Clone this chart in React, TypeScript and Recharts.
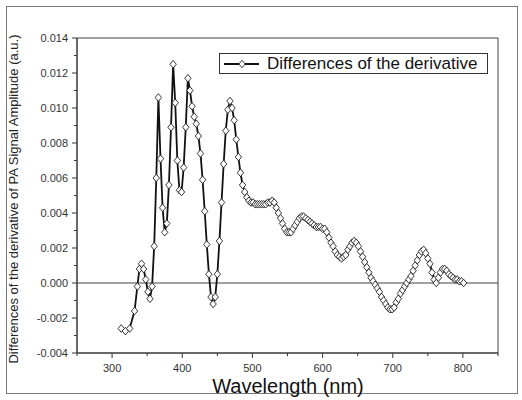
import React from "react"
import {
  LineChart,
  Line,
  XAxis,
  YAxis,
  ReferenceLine,
  ReferenceArea,
  Legend,
} from "recharts"

const wavelengths = [
  313, 319, 325, 332, 336, 339, 342, 345, 348, 351, 354, 357, 360, 363, 366, 369,
  372, 375, 378, 381, 384, 387, 390, 393, 396, 399, 402, 405, 408, 411, 414, 417,
  420, 423, 426, 429, 432, 435, 438, 441, 444, 447, 450, 453, 456, 459, 462, 465,
  468, 471, 474, 477, 480, 483, 486, 489, 492, 495, 498, 501, 504, 507, 510, 513,
  516, 519, 522, 525, 528, 531, 534, 537, 540, 543, 546, 549, 552, 555, 558, 561,
  564, 567, 570, 573, 576, 579, 582, 585, 588, 591, 594, 597, 600, 603, 606, 609,
  612, 615, 618, 621, 624, 627, 630, 633, 636, 639, 642, 645, 648, 651, 654, 657,
  660, 663, 666, 669, 672, 675, 678, 681, 684, 687, 690, 693, 696, 699, 702, 705,
  708, 711, 714, 717, 720, 723, 726, 729, 732, 735, 738, 741, 744, 747, 750, 753,
  756, 759, 762, 765, 768, 771, 774, 777, 780, 783, 786, 789, 792, 795, 798, 801,
]

const differences = [
  -0.0026, -0.00275, -0.0026, -0.0016, -0.0002, 0.0008, 0.0011, 0.0008, 0.0002, -0.0005, -0.0009, -0.0002, 0.0021, 0.006, 0.0106, 0.0071,
  0.0043, 0.0029, 0.0034, 0.0056, 0.0089, 0.0125, 0.0103, 0.007, 0.0053, 0.0052, 0.0066, 0.0089, 0.0117, 0.011, 0.0101, 0.0095,
  0.0091, 0.0084, 0.0074, 0.0059, 0.0041, 0.0022, 0.0005, -0.0008, -0.0012, -0.0008, 0.0005, 0.0024, 0.0046, 0.0068, 0.0087, 0.0099,
  0.0104, 0.01, 0.0093, 0.0082, 0.0072, 0.0063, 0.0056, 0.0052, 0.0049, 0.0047, 0.0046, 0.0046, 0.0045, 0.0045, 0.0045, 0.0045,
  0.0045, 0.0045, 0.0046, 0.0046, 0.0047, 0.0046, 0.0043, 0.004, 0.0037, 0.0034, 0.0031, 0.0029, 0.0029, 0.0029, 0.0031, 0.0033,
  0.0035, 0.0037, 0.0038, 0.0038, 0.0037, 0.0036, 0.0035, 0.0034, 0.0033, 0.0032, 0.0032, 0.0032, 0.0031, 0.0031, 0.0029, 0.0026,
  0.0023, 0.0021, 0.0018, 0.0016, 0.0015, 0.0014, 0.0015, 0.0016, 0.0019, 0.0021, 0.0023, 0.0024, 0.0023, 0.0021, 0.0018, 0.0015,
  0.0012, 0.0009, 0.0006, 0.0003, 0.0001, -0.0001, -0.0003, -0.0005, -0.0008, -0.001, -0.0012, -0.0014, -0.0015, -0.0015, -0.0014, -0.0011,
  -0.0009, -0.0006, -0.0004, -0.0002, 0.0, 0.0002, 0.0004, 0.0007, 0.001, 0.0013, 0.0016, 0.0018, 0.0019, 0.0017, 0.0014, 0.0011,
  0.0006, 0.0002, 0.0, 0.0003, 0.0006, 0.0008, 0.0008, 0.0007, 0.0005, 0.0004, 0.0003, 0.0002, 0.0002, 0.0001, 0.0001, 0.0,
]

const xTicks = [250, 300, 350, 400, 450, 500, 550, 600, 650, 700, 750, 800, 850]
const yTicks = [
  -0.004, -0.003, -0.002, -0.001, 0, 0.001, 0.002, 0.003, 0.004, 0.005, 0.006,
  0.007, 0.008, 0.009, 0.01, 0.011, 0.012, 0.013, 0.014,
]

const seriesName = "Differences of the derivative"

const data = wavelengths.map((w, i) => ({ wavelength: w, value: differences[i] }))

const FONT = "'Liberation Sans', Arial, sans-serif"

function XTick(props: any) {
  const { x, y, payload } = props
  const major = payload.value % 100 === 0
  return (
    <g>
      <line x1={x} x2={x} y1={y} y2={y + (major ? 5 : 3)} stroke="#333" />
      {major && payload.value !== 250 && payload.value !== 850 && (
        <text x={x} y={y + 19} textAnchor="middle" fontSize={11} fill="#333" fontFamily={FONT}>
          {payload.value}
        </text>
      )}
    </g>
  )
}

function YTick(props: any) {
  const { x, y, payload } = props
  const major = Math.round(payload.value * 1000) % 2 === 0
  return (
    <g>
      <line x1={x} x2={x - (major ? 5 : 3)} y1={y} y2={y} stroke="#333" />
      {major && (
        <text x={x - 9} y={y + 4} textAnchor="end" fontSize={11} fill="#333" fontFamily={FONT}>
          {payload.value.toFixed(3)}
        </text>
      )}
    </g>
  )
}

function Diamond(props: any) {
  const { cx, cy, index } = props
  if (cx == null || cy == null) return <g key={`d-${index}`} />
  return (
    <path
      key={`d-${index}`}
      d={`M${cx},${cy - 3.8} L${cx + 3.2},${cy} L${cx},${cy + 3.8} L${cx - 3.2},${cy} Z`}
      fill="#fff"
      stroke="#222"
      strokeWidth={0.9}
    />
  )
}

function LegendBox() {
  return (
    <div
      style={{
        position: "absolute",
        left: 219,
        top: 53,
        width: 267,
        height: 19,
        border: "1px solid #333",
        background: "#fff",
        fontFamily: FONT,
        fontSize: 17,
        color: "#111",
        display: "flex",
        alignItems: "center",
        boxSizing: "content-box",
      }}
    >
      <svg width={44} height={19} style={{ display: "block" }}>
        <line x1={4} x2={39} y1={10} y2={10} stroke="#111" strokeWidth={1.8} />
        <path d="M22,6.2 L25.2,10 L22,13.8 L18.8,10 Z" fill="#fff" stroke="#222" strokeWidth={0.9} />
      </svg>
      <span style={{ marginLeft: 3, lineHeight: "19px", whiteSpace: "nowrap" }}>{seriesName}</span>
    </div>
  )
}

export default function App() {
  return (
    <div style={{ position: "absolute", left: 0, top: 0, width: 522, height: 400, background: "#fff" }}>
      <div
        style={{
          position: "absolute",
          left: 6,
          top: 6,
          width: 510,
          height: 386,
          border: "1px solid #777",
        }}
      />
      <LineChart
        width={522}
        height={400}
        data={data}
        margin={{ top: 38, right: 24, left: 0, bottom: 0 }}
        style={{ position: "absolute", left: 0, top: 0 }}
      >
        <XAxis
          dataKey="wavelength"
          type="number"
          domain={[250, 850]}
          ticks={xTicks}
          interval={0}
          height={47}
          tickSize={0}
          tickMargin={0}
          tickLine={false}
          tick={<XTick />}
          axisLine={{ stroke: "#333" }}
        />
        <YAxis
          type="number"
          domain={[-0.004, 0.014]}
          ticks={yTicks}
          interval={0}
          width={77}
          tickSize={0}
          tickMargin={0}
          tickLine={false}
          tick={<YTick />}
          axisLine={{ stroke: "#333" }}
        />
        <ReferenceArea x1={250} x2={850} y1={-0.004} y2={0.014} fill="none" stroke="#444" strokeWidth={1} />
        <ReferenceLine y={0} stroke="#444" strokeWidth={1} />
        <Legend content={() => <LegendBox />} wrapperStyle={{ position: "absolute", left: 0, top: 0, width: 0, height: 0 }} />
        <Line
          type="linear"
          dataKey="value"
          name={seriesName}
          stroke="#111"
          strokeWidth={1.8}
          dot={<Diamond />}
          activeDot={false}
          isAnimationActive={false}
        />
        <text x={18} y={199} transform="rotate(-90 18 199)" textAnchor="middle" fontSize={13} fill="#222" fontFamily={FONT}>
          Differences of the derivative of PA Signal Amplitude (a.u.)
        </text>
        <text x={288} y={393} textAnchor="middle" fontSize={20} fill="#111" fontFamily={FONT}>
          Wavelength (nm)
        </text>
      </LineChart>
    </div>
  )
}
